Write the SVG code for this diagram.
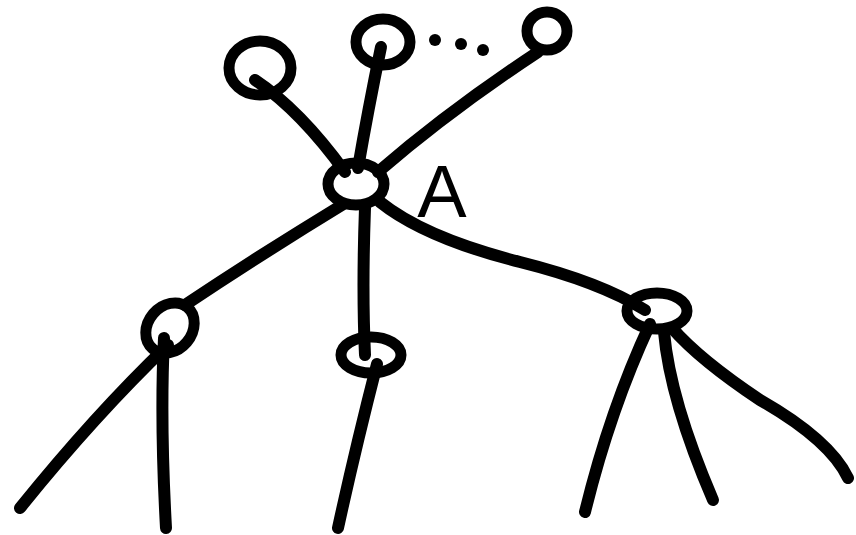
<svg xmlns="http://www.w3.org/2000/svg" width="856" height="535" viewBox="0 0 856 535">
<style>
.n{fill:none;stroke:#000;stroke-width:11}
.e{fill:none;stroke:#000;stroke-width:12;stroke-linecap:round;stroke-linejoin:round}
.d{fill:#000}
.lbl{font-family:"Liberation Sans",Arial,sans-serif;font-size:74px;fill:#000}
</style>
<rect width="856" height="535" fill="#fff"/>
<g id="connectors">
<path class="e" d="M255 80 Q300 110 345 172"/>
<path class="e" d="M381 47 Q368 110 358 168"/>
<path class="e" d="M538 52 Q450 110 378 172"/>
<path class="e" d="M342 205 Q260 255 185 305"/>
<path class="e" d="M168 345 Q95 415 20 508"/>
<path class="e" d="M164 338 Q160 420 166 528"/>
<path class="e" d="M365 208 Q362 290 365 355"/>
<path class="e" d="M377 364 Q355 450 338 528"/>
<path class="e" d="M380 202 Q425 238 520 262 Q600 282 645 310"/>
<path class="e" d="M650 324 Q610 410 585 512"/>
<path class="e" d="M664 332 Q670 400 713 500"/>
<path class="e" d="M672 328 Q700 360 760 400 Q830 440 848 478"/>
</g>
<g id="n1"><ellipse class="n" cx="260" cy="68" rx="31" ry="27"/></g>
<g id="n2"><ellipse class="n" cx="383" cy="42" rx="27" ry="23"/></g>
<g id="n3"><ellipse class="n" cx="547" cy="31" rx="20" ry="19"/></g>
<g id="dots"><circle class="d" cx="435" cy="40" r="6"/><circle class="d" cx="461" cy="44" r="6"/><circle class="d" cx="483" cy="50" r="6"/></g>
<g id="A"><ellipse class="n" cx="356" cy="184" rx="28" ry="21"/><text class="lbl" x="442" y="217" text-anchor="middle">A</text></g>
<g id="n4"><ellipse class="n" cx="170" cy="328" rx="22" ry="27" transform="rotate(40 170 328)"/></g>
<g id="n5"><ellipse class="n" cx="371" cy="355" rx="30" ry="18"/></g>
<g id="n6"><ellipse class="n" cx="657" cy="311" rx="30" ry="18"/></g>
</svg>
